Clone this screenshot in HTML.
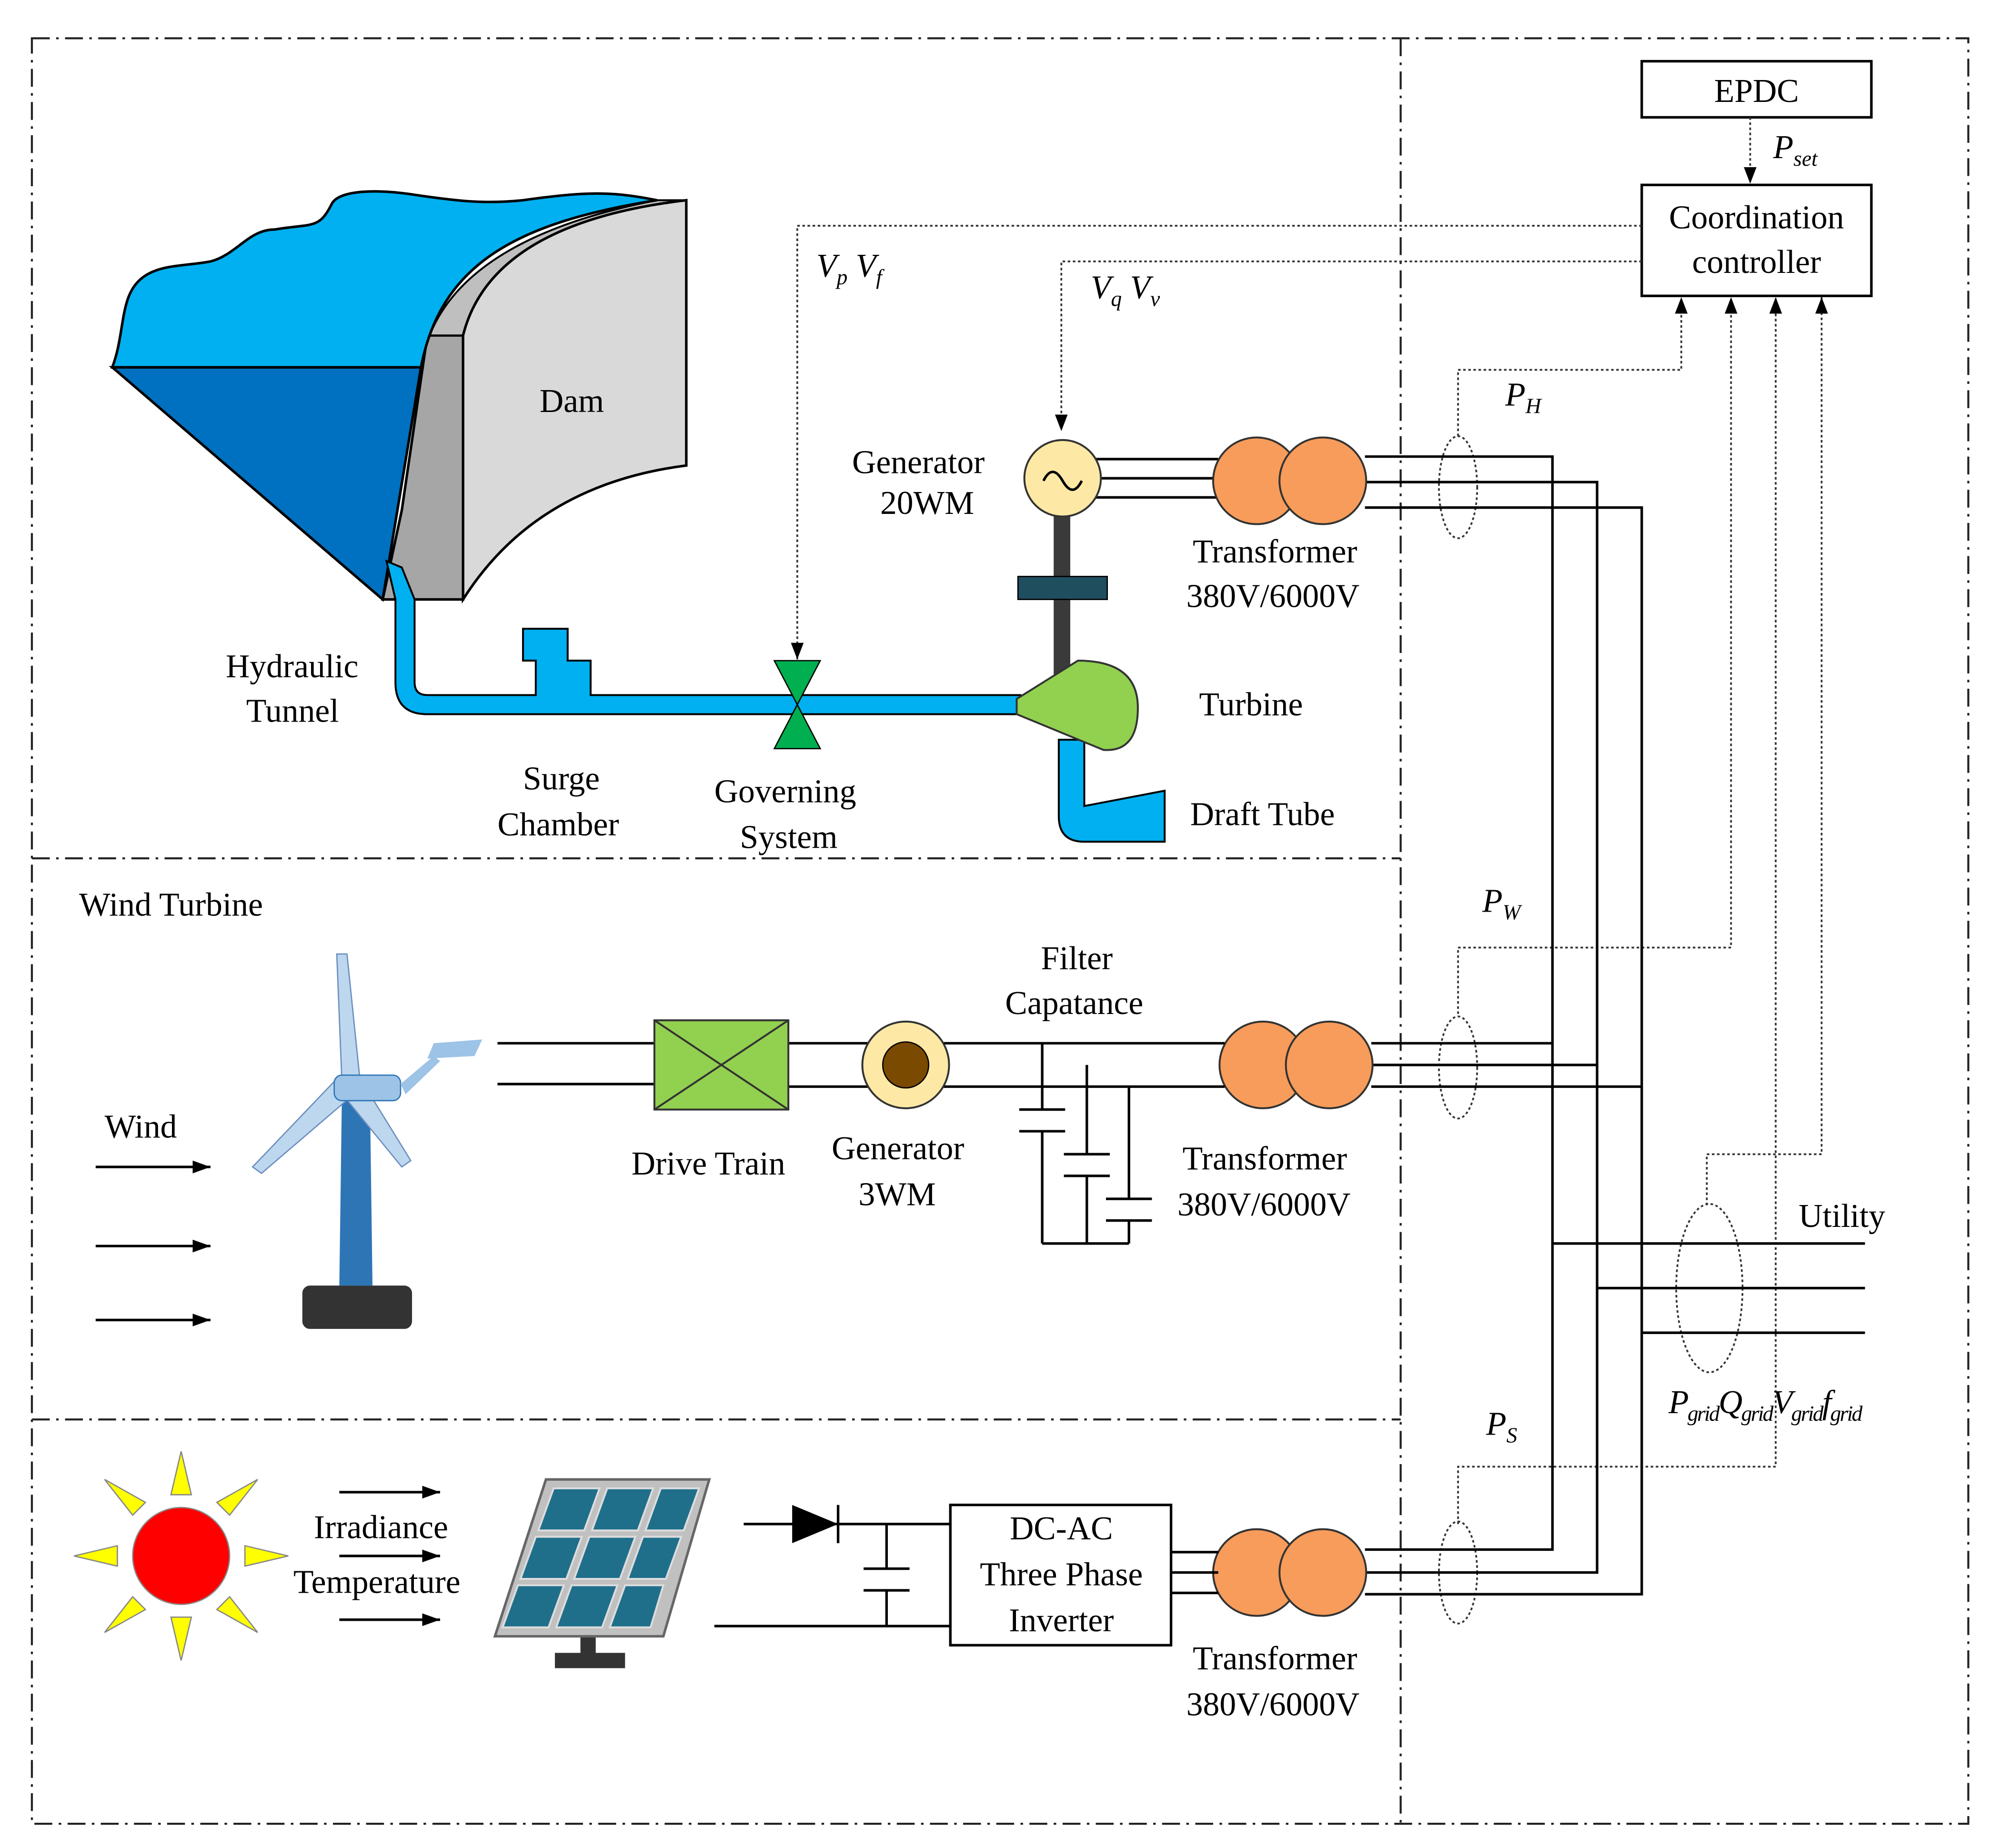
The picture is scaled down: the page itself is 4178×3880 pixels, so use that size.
<!DOCTYPE html>
<html><head><meta charset="utf-8"><style>
html,body{margin:0;padding:0;background:#fff;}
svg{display:block;}
text{font-family:"Liberation Serif",serif;font-size:26px;fill:#000;}
.it{font-style:italic;}
</style></head><body>
<svg width="4178" height="3880" viewBox="0 0 1560 1449" preserveAspectRatio="none" xmlns="http://www.w3.org/2000/svg">
<defs>
<marker id="ar" markerWidth="13" markerHeight="10" refX="13" refY="5" orient="auto" markerUnits="userSpaceOnUse"><path d="M0,0 L13,5 L0,10 z" fill="#000"/></marker>
<marker id="ah" markerWidth="14" markerHeight="10" refX="14" refY="5" orient="auto" markerUnits="userSpaceOnUse"><path d="M0,0 L14,5 L0,10 z" fill="#000"/></marker>
</defs>
<rect width="1560" height="1449" fill="#fff"/>
<g fill="none" stroke="#222" stroke-width="1.6" stroke-dasharray="14,5,2,5">
<rect x="25" y="30" width="1518" height="1400"/>
<line x1="1098" y1="30" x2="1098" y2="1430"/>
<line x1="25" y1="673" x2="1098" y2="673"/>
<line x1="25" y1="1113" x2="1098" y2="1113"/>
</g>
<rect x="1287" y="48" width="180" height="44" fill="#fff" stroke="#000" stroke-width="2"/>
<text x="1377" y="80" text-anchor="middle">EPDC</text>
<rect x="1287" y="145" width="180" height="87" fill="#fff" stroke="#000" stroke-width="2"/>
<text x="1377" y="179" text-anchor="middle">Coordination</text>
<text x="1377" y="214" text-anchor="middle">controller</text>
<g fill="none" stroke="#333" stroke-width="1.4" stroke-dasharray="2,2">
<line x1="1372" y1="92" x2="1372" y2="144" marker-end="url(#ar)"/>
<polyline points="1287,177 625,177 625,517" marker-end="url(#ar)"/>
<polyline points="1287,205 832,205 832,338" marker-end="url(#ar)"/>
<polyline points="1143,342 1143,290 1318,290 1318,233" marker-end="url(#ar)"/>
<polyline points="1143,795 1143,743 1357,743 1357,233" marker-end="url(#ar)"/>
<polyline points="1143,1195 1143,1150 1392,1150 1392,233" marker-end="url(#ar)"/>
<polyline points="1338,945 1338,905 1428,905 1428,233" marker-end="url(#ar)"/>
<ellipse cx="1143" cy="382" rx="15" ry="40"/>
<ellipse cx="1143" cy="837" rx="15" ry="40"/>
<ellipse cx="1143" cy="1233" rx="15" ry="40"/>
<ellipse cx="1340" cy="1010" rx="26" ry="66"/>
</g>
<text x="1390" y="124" class="it">P<tspan font-size="17" dy="6">set</tspan></text>
<text x="640" y="217" class="it">V<tspan font-size="17" dy="6">p</tspan><tspan dy="-6"> V</tspan><tspan font-size="17" dy="6">f</tspan></text>
<text x="855" y="234" class="it">V<tspan font-size="17" dy="6">q</tspan><tspan dy="-6"> V</tspan><tspan font-size="17" dy="6">v</tspan></text>
<text x="1180" y="318" class="it">P<tspan font-size="17" dy="6">H</tspan></text>
<text x="1162" y="715" class="it">P<tspan font-size="17" dy="6">W</tspan></text>
<text x="1165" y="1125" class="it">P<tspan font-size="17" dy="6">S</tspan></text>
<text x="1308" y="1108" class="it" letter-spacing="-1">P<tspan font-size="17" dy="6">grid</tspan><tspan dy="-6">Q</tspan><tspan font-size="17" dy="6">grid</tspan><tspan dy="-6">V</tspan><tspan font-size="17" dy="6">grid</tspan><tspan dy="-6">f</tspan><tspan font-size="17" dy="6">grid</tspan></text>
<text x="1410" y="962">Utility</text>
<g stroke="#000" stroke-width="2" fill="none">
<polyline points="1070,358 1217,358 1217,1215 1070,1215"/>
<polyline points="1070,378 1252,378 1252,1233 1070,1233"/>
<polyline points="1070,398 1287,398 1287,1250 1070,1250"/>
<line x1="1075" y1="818" x2="1217" y2="818"/>
<line x1="1075" y1="835" x2="1252" y2="835"/>
<line x1="1075" y1="852" x2="1287" y2="852"/>
<line x1="1217" y1="975" x2="1462" y2="975"/>
<line x1="1252" y1="1010" x2="1462" y2="1010"/>
<line x1="1287" y1="1045" x2="1462" y2="1045"/>
<line x1="855" y1="360" x2="955" y2="360"/>
<line x1="862" y1="375" x2="955" y2="375"/>
<line x1="855" y1="390" x2="955" y2="390"/>
</g>
<!-- dam -->
<path d="M300,470 L363,470 L363,263 L335,263 L315,400 Z" fill="#a6a6a6" stroke="#000" stroke-width="2"/>
<path d="M330,288 Q345,190 515,157 L538,157 Q390,175 363,263 L335,263 Z" fill="#bfbfbf" stroke="#000" stroke-width="1.5"/>
<path d="M363,263 Q385,175 538,157 L538,365 Q420,380 363,470 Z" fill="#d9d9d9" stroke="#000" stroke-width="2"/>
<path d="M88,288 L330,288 L300,470 Z" fill="#0070c0" stroke="#000" stroke-width="2"/>
<path d="M88,288 C95,270 95,250 100,235 C110,205 140,210 165,205 C185,200 195,180 215,180 C245,175 250,180 260,160 C265,150 290,148 320,152 C360,158 380,160 410,157 C460,150 480,150 515,157 C400,175 345,210 330,288 Z" fill="#00b0f0" stroke="#000" stroke-width="2"/>
<text x="423" y="323">Dam</text>
<path d="M303,440 L310,470 L310,535 Q310,560 335,560 L800,560 L800,545 L463,545 L463,518 L445,518 L445,493 L410,493 L410,518 L420,518 L420,545 L335,545 Q325,545 325,535 L325,470 L315,445 Z" fill="#00b0f0" stroke="#000" stroke-width="1.5"/>
<path d="M830,580 L830,640 Q830,660 850,660 L913,660 L913,620 L850,632 L850,580 Z" fill="#00b0f0" stroke="#000" stroke-width="1.5"/>
<path d="M607,518 L643,518 L607,587 L643,587 Z" fill="#00b050" stroke="#000" stroke-width="1"/>
<rect x="826" y="405" width="13" height="128" fill="#3a3a3a"/>
<rect x="798" y="452" width="70" height="18" fill="#1f4e5f" stroke="#000"/>
<path d="M797,548 L845,518 Q892,518 892,555 Q892,590 865,588 L797,560 Z" fill="#92d050" stroke="#333" stroke-width="1.5"/>
<circle cx="833" cy="375" r="30" fill="#fde9a5" stroke="#333" stroke-width="1.5"/>
<path d="M818,377 q7,-14 15,0 t15,0" fill="none" stroke="#000" stroke-width="2"/>
<text x="668" y="371">Generator</text><text x="690" y="403">20WM</text>
<text x="935" y="441">Transformer</text><text x="930" y="476">380V/6000V</text>
<text x="940" y="561">Turbine</text><text x="933" y="647">Draft Tube</text>
<text x="177" y="531">Hydraulic</text><text x="193" y="566">Tunnel</text>
<text x="410" y="619">Surge</text><text x="390" y="655">Chamber</text>
<text x="560" y="629">Governing</text><text x="580" y="665">System</text>
<g fill="#f79c5b" stroke="#333" stroke-width="1.5">
<circle cx="985" cy="377" r="34"/><circle cx="1037" cy="377" r="34"/>
<circle cx="990" cy="835" r="34"/><circle cx="1042" cy="835" r="34"/>
<circle cx="985" cy="1233" r="34"/><circle cx="1037" cy="1233" r="34"/>
</g>
<text x="62" y="718">Wind Turbine</text>
<text x="82" y="892">Wind</text>
<g stroke="#000" stroke-width="2">
<line x1="75" y1="915" x2="165" y2="915" marker-end="url(#ah)"/>
<line x1="75" y1="977" x2="165" y2="977" marker-end="url(#ah)"/>
<line x1="75" y1="1035" x2="165" y2="1035" marker-end="url(#ah)"/>
</g>
<rect x="237" y="1008" width="86" height="34" rx="6" fill="#333"/>
<path d="M268,860 L290,860 L292,1008 L266,1008 Z" fill="#2e75b6"/>
<path d="M264,748 L272,748 L282,845 L268,848 Z" fill="#bdd7ee" stroke="#6c8ebf"/>
<path d="M262,848 L198,915 L205,920 L275,860 Z" fill="#bdd7ee" stroke="#6c8ebf"/>
<path d="M270,860 L315,915 L322,910 L285,850 Z" fill="#bdd7ee" stroke="#6c8ebf"/>
<rect x="262" y="843" width="52" height="20" rx="6" fill="#9dc3e6" stroke="#2e75b6"/>
<path d="M314,850 L340,828 L345,832 L318,858 Z" fill="#9dc3e6"/>
<path d="M340,818 L378,815 L372,828 L335,830 Z" fill="#9dc3e6"/>
<g stroke="#000" stroke-width="2">
<line x1="390" y1="818" x2="513" y2="818"/><line x1="390" y1="850" x2="513" y2="850"/>
<line x1="618" y1="818" x2="960" y2="818"/><line x1="618" y1="852" x2="960" y2="852"/>
<line x1="817" y1="818" x2="817" y2="870"/><line x1="817" y1="887" x2="817" y2="975"/>
<line x1="799" y1="870" x2="835" y2="870"/><line x1="799" y1="887" x2="835" y2="887"/>
<line x1="852" y1="835" x2="852" y2="905"/><line x1="852" y1="922" x2="852" y2="975"/>
<line x1="834" y1="905" x2="870" y2="905"/><line x1="834" y1="922" x2="870" y2="922"/>
<line x1="885" y1="852" x2="885" y2="940"/><line x1="885" y1="957" x2="885" y2="975"/>
<line x1="867" y1="940" x2="903" y2="940"/><line x1="867" y1="957" x2="903" y2="957"/>
<line x1="817" y1="975" x2="885" y2="975"/>
</g>
<rect x="513" y="800" width="105" height="70" fill="#92d050" stroke="#333" stroke-width="1.5"/>
<line x1="513" y1="800" x2="618" y2="870" stroke="#333" stroke-width="1.5"/><line x1="618" y1="800" x2="513" y2="870" stroke="#333" stroke-width="1.5"/>
<circle cx="710" cy="835" r="34" fill="#fde9a5" stroke="#333" stroke-width="1.5"/>
<circle cx="710" cy="835" r="18" fill="#7a4a00" stroke="#000"/>
<text x="816" y="760">Filter</text><text x="788" y="795">Capatance</text>
<text x="495" y="921">Drive Train</text>
<text x="652" y="909">Generator</text><text x="673" y="945">3WM</text>
<text x="927" y="917">Transformer</text><text x="923" y="953">380V/6000V</text>
<g fill="#ffff00" stroke="#888" stroke-width="1">
<polygon points="142,1138 134,1172 150,1172"/><polygon points="142,1302 134,1268 150,1268"/>
<polygon points="58,1220 92,1212 92,1228"/><polygon points="226,1220 192,1212 192,1228"/>
<polygon points="82,1160 104,1188 114,1178"/><polygon points="202,1160 180,1188 170,1178"/>
<polygon points="82,1280 104,1252 114,1262"/><polygon points="202,1280 180,1252 170,1262"/>
</g>
<circle cx="142" cy="1220" r="38" fill="#ff0000" stroke="#888"/>
<g stroke="#000" stroke-width="2">
<line x1="266" y1="1170" x2="345" y2="1170" marker-end="url(#ah)"/>
<line x1="266" y1="1220" x2="345" y2="1220" marker-end="url(#ah)"/>
<line x1="266" y1="1270" x2="345" y2="1270" marker-end="url(#ah)"/>
</g>
<text x="246" y="1206">Irradiance</text><text x="230" y="1249">Temperature</text>
<rect x="455" y="1280" width="12" height="18" fill="#333"/>
<rect x="435" y="1296" width="55" height="12" fill="#333"/>
<polygon points="428,1160 556,1160 520,1283 388,1283" fill="#c0c0c0" stroke="#666" stroke-width="2"/>
<g fill="#1f6f8b" stroke="#ddd" stroke-width="1.5">
<polygon points="434,1167 470,1167 458,1200 422,1200"/><polygon points="476,1167 512,1167 500,1200 464,1200"/><polygon points="518,1167 548,1167 536,1200 506,1200"/>
<polygon points="420,1205 456,1205 444,1238 408,1238"/><polygon points="462,1205 498,1205 486,1238 450,1238"/><polygon points="504,1205 534,1205 522,1238 492,1238"/>
<polygon points="406,1243 442,1243 430,1276 394,1276"/><polygon points="448,1243 484,1243 472,1276 436,1276"/><polygon points="490,1243 520,1243 510,1276 478,1276"/>
</g>
<g stroke="#000" stroke-width="2">
<line x1="583" y1="1195" x2="745" y2="1195"/><line x1="560" y1="1275" x2="745" y2="1275"/>
<line x1="657" y1="1180" x2="657" y2="1210"/>
<line x1="695" y1="1195" x2="695" y2="1230"/><line x1="695" y1="1247" x2="695" y2="1275"/>
<line x1="677" y1="1230" x2="713" y2="1230"/><line x1="677" y1="1247" x2="713" y2="1247"/>
<line x1="918" y1="1217" x2="955" y2="1217"/><line x1="918" y1="1233" x2="955" y2="1233"/><line x1="918" y1="1249" x2="955" y2="1249"/>
</g>
<polygon points="621,1180 621,1210 657,1195" fill="#000"/>
<rect x="745" y="1180" width="173" height="110" fill="#fff" stroke="#000" stroke-width="2"/>
<text x="832" y="1207" text-anchor="middle">DC-AC</text>
<text x="832" y="1243" text-anchor="middle">Three Phase</text>
<text x="832" y="1279" text-anchor="middle">Inverter</text>
<text x="935" y="1309">Transformer</text><text x="930" y="1345">380V/6000V</text>
</svg>
</body></html>
